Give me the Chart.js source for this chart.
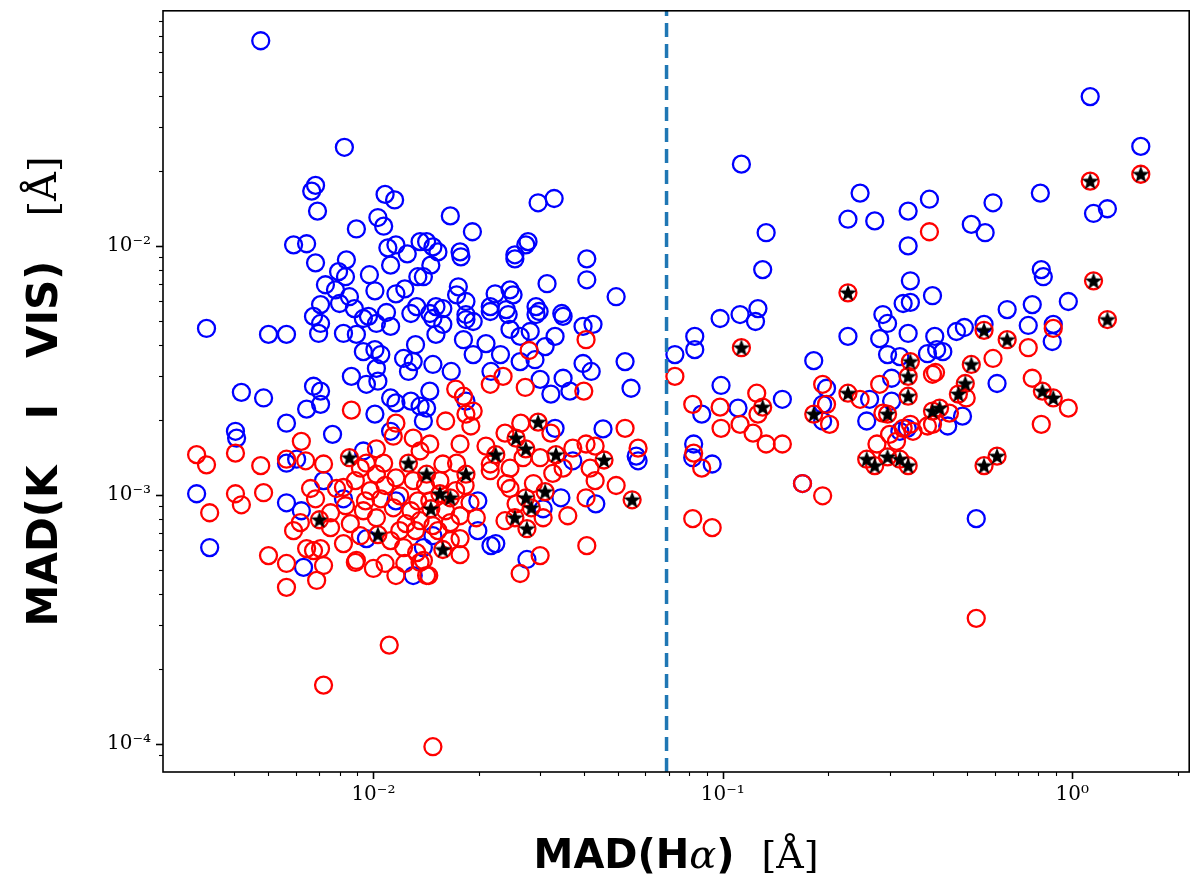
<!DOCTYPE html>
<html>
<head>
<meta charset="utf-8">
<title>MAD scatter</title>
<script src="https://cdn.jsdelivr.net/npm/chart.js@4.4.1/dist/chart.umd.min.js"></script>
<style>
  html, body { margin: 0; padding: 0; background: #fff; }
  #wrap { width: 1200px; height: 890px; }
</style>
</head>
<body>
<div id="wrap"><canvas id="chart" width="1200" height="890"></canvas></div>
<script>
// Blue circles
const blueX = [
  0.00476, 0.00826, 0.00683, 0.00666, 0.00692, 0.0108, 0.0115, 0.00894, 0.0103, 0.0107,
  0.00591, 0.00644, 0.00683, 0.00837, 0.00795, 0.00832, 0.00729, 0.00779, 0.00974, 0.0101,
  0.0110, 0.0116, 0.0125, 0.0112, 0.0136, 0.0134, 0.0116, 0.0123, 0.00854, 0.00800,
  0.00706, 0.00882, 0.0109, 0.0133, 0.0128, 0.00674, 0.00968,
  0.0166, 0.0192, 0.0296, 0.0329, 0.0142, 0.0148, 0.0153, 0.0146, 0.0139, 0.0177,
  0.0178, 0.0254, 0.0254, 0.0277, 0.0273, 0.0408, 0.0408, 0.0314, 0.0495, 0.0175,
  0.0173, 0.0184, 0.0223, 0.0246, 0.0251, 0.0216, 0.0240, 0.0292, 0.0298, 0.0346,
  0.0151, 0.0145, 0.0158, 0.0184,
  0.00333, 0.00501, 0.00564, 0.00706, 0.00697, 0.00821, 0.00894, 0.00936, 0.0102, 0.0112,
  0.00936, 0.0101, 0.0105, 0.0122, 0.0130, 0.0132, 0.0102, 0.0126, 0.00865, 0.00955,
  0.0103, 0.00674, 0.00706, 0.00419, 0.00485, 0.00706, 0.00644, 0.0112, 0.0116, 0.0128,
  0.0136, 0.0101, 0.00564, 0.00403, 0.00406, 0.00764, 0.00936, 0.00603, 0.00564, 0.0112,
  0.0148, 0.0158, 0.0184, 0.0193, 0.0216, 0.0243, 0.0292, 0.0349, 0.0398, 0.0425,
  0.0151, 0.0181, 0.0210, 0.0246, 0.0263, 0.0281, 0.0331, 0.0310, 0.0231, 0.0193,
  0.0263, 0.0290, 0.0398, 0.0420, 0.0525, 0.0148, 0.0167, 0.0217, 0.0300, 0.0349,
  0.0322, 0.0365, 0.0546, 0.0145, 0.0142, 0.0184, 0.0454, 0.0331, 0.0565, 0.0139,
  0.00312, 0.00340, 0.00564, 0.00622, 0.00720, 0.00821, 0.00631, 0.00955, 0.0116, 0.0130,
  0.0433, 0.0344, 0.0306, 0.0224, 0.0275, 0.0199, 0.0199, 0.0148, 0.0139, 0.0572,
  0.0372, 0.0217,
  0.113, 0.247, 0.390, 0.228, 0.272, 0.339, 0.133, 0.339, 0.130, 0.344,
  0.398, 0.328, 0.344, 0.287, 0.296, 0.126, 0.124, 0.112, 0.0982, 0.0831,
  0.228, 0.281, 0.339, 0.404, 1.125, 1.57, 0.810, 0.593, 0.514, 0.563,
  1.15, 1.26, 0.815, 0.826, 0.974, 0.768, 0.651, 0.748, 0.491, 0.466,
  0.882, 0.559, 0.0831, 0.0729, 0.296, 0.321, 0.385, 0.409, 0.182, 0.0988,
  0.148, 0.1105, 0.0870, 0.198, 0.193, 0.193, 0.263, 0.258, 0.304, 0.304,
  0.321, 0.337, 0.0825, 0.0820, 0.0932, 0.169, 0.876, 0.426, 0.609, 0.485,
  0.440, 0.531
];
const blueY = [
  0.0667, 0.0249, 0.0175, 0.0166, 0.0138, 0.0161, 0.0153, 0.0117, 0.0130, 0.0120,
  0.0101, 0.0102, 0.00855, 0.00879, 0.00788, 0.00752, 0.00698, 0.00666, 0.00766, 0.00660,
  0.00982, 0.0101, 0.00929, 0.00837, 0.0104, 0.00752, 0.00642, 0.00672, 0.00625, 0.00587,
  0.00581, 0.00560, 0.00540, 0.00570, 0.00535, 0.00521, 0.00521,
  0.0132, 0.0114, 0.0149, 0.0155, 0.0104, 0.00991, 0.00946, 0.00837, 0.00752, 0.00946,
  0.00904, 0.00921, 0.00887, 0.0104, 0.0101, 0.00887, 0.00731, 0.00705, 0.00625, 0.00685,
  0.00636, 0.00598, 0.00642, 0.00666, 0.00636, 0.00570, 0.00555, 0.00570, 0.00545, 0.00535,
  0.00570, 0.00535, 0.00560, 0.00530,
  0.00466, 0.00441, 0.00441, 0.00488, 0.00445, 0.00445, 0.00441, 0.00511, 0.00488, 0.00475,
  0.00376, 0.00383, 0.00366, 0.00353, 0.00343, 0.00401, 0.00322, 0.00313, 0.00299, 0.00278,
  0.00286, 0.00273, 0.00261, 0.00258, 0.00245, 0.00231, 0.00221, 0.00245, 0.00234, 0.00238,
  0.00227, 0.00211, 0.00194, 0.00180, 0.00169, 0.00175, 0.00150, 0.00139, 0.00134, 0.00180,
  0.00511, 0.00484, 0.00506, 0.00497, 0.00545, 0.00530, 0.00530, 0.00521, 0.00475, 0.00484,
  0.00441, 0.00420, 0.00405, 0.00462, 0.00433, 0.00453, 0.00433, 0.00394, 0.00366, 0.00366,
  0.00343, 0.00349, 0.00337, 0.00313, 0.00343, 0.00334, 0.00313, 0.00313, 0.00291, 0.00294,
  0.00254, 0.00261, 0.00268, 0.00261, 0.00223, 0.00238, 0.00184, 0.00185, 0.00143, 0.00198,
  0.00101, 0.000614, 0.000929, 0.000863, 0.00114, 0.000964, 0.000511, 0.000667, 0.000946, 0.000474,
  0.000920, 0.000973, 0.000879, 0.000637, 0.000550, 0.000718, 0.000946, 0.000685, 0.000614, 0.00137,
  0.00137, 0.000625,
  0.0213, 0.0163, 0.0154, 0.0128, 0.0126, 0.0138, 0.0113, 0.0100, 0.00803, 0.00724,
  0.00631, 0.00587, 0.00593, 0.00530, 0.00488, 0.00560, 0.00497, 0.00530, 0.00511, 0.00433,
  0.00433, 0.00424, 0.00445, 0.00433, 0.0398, 0.0251, 0.0163, 0.0149, 0.0122, 0.0113,
  0.0135, 0.0141, 0.00803, 0.00752, 0.00598, 0.00581, 0.00555, 0.00479, 0.00470, 0.00453,
  0.00484, 0.00484, 0.00383, 0.00366, 0.00366, 0.00359, 0.00369, 0.00383, 0.00346, 0.00275,
  0.00242, 0.00223, 0.00211, 0.00268, 0.00231, 0.00198, 0.00242, 0.00198, 0.00294, 0.00238,
  0.00180, 0.00185, 0.00160, 0.00141, 0.00133, 0.00111, 0.00413, 0.00376, 0.00280, 0.00207,
  0.00189, 0.000802
];

// Red circles
const redX = [
  0.00865, 0.0116, 0.0114, 0.0130, 0.00622, 0.00403, 0.00312, 0.00333, 0.00476, 0.00564,
  0.00640, 0.00720, 0.0102, 0.00955, 0.0107, 0.0136,
  0.0406, 0.0279, 0.0235, 0.0216, 0.0272, 0.0400, 0.0172, 0.0181, 0.0193, 0.0184,
  0.0161, 0.0190, 0.0238, 0.0264, 0.0322, 0.0525, 0.0572, 0.0145, 0.0177, 0.0210,
  0.0372, 0.0406, 0.0431, 0.0268, 0.0300, 0.0158, 0.0173, 0.0216, 0.0246,
  0.00403, 0.00419, 0.00485, 0.00340, 0.00501, 0.00564, 0.00564, 0.00688, 0.00720, 0.00591,
  0.00618, 0.00644, 0.00674, 0.00706, 0.00661, 0.00683, 0.00784, 0.00821, 0.00754, 0.00821,
  0.00894, 0.0100, 0.0108, 0.0116, 0.00936, 0.0102, 0.0114, 0.0105, 0.0124, 0.0122,
  0.0133, 0.00918, 0.0102, 0.0116, 0.0130, 0.00859, 0.00918, 0.00754,
  0.0495, 0.0431, 0.0406, 0.0360, 0.0306, 0.0238, 0.0256, 0.0408, 0.0300, 0.0263,
  0.0177, 0.0177, 0.0197, 0.0189, 0.0166, 0.0148, 0.0144, 0.0139, 0.0240, 0.0246,
  0.0287, 0.0326, 0.0349, 0.0417, 0.0216,
  0.0111, 0.00720, 0.0148, 0.00888, 0.0136, 0.0123, 0.0142,
  0.0098, 0.0108, 0.0119, 0.0128, 0.0134, 0.00949, 0.00888, 0.0119, 0.0112, 0.0132, 0.0136, 0.00832,
  0.0141, 0.0155, 0.0172, 0.0183, 0.0145, 0.0161, 0.0177, 0.0153, 0.0166,
  0.390, 0.882, 0.0729, 0.0820, 0.0982, 0.0988, 0.112, 0.122, 0.125, 0.126,
  0.133, 0.148, 0.0825, 0.0870, 0.0820, 0.0932, 0.193, 0.169, 0.193, 0.198,
  0.202, 0.247, 0.281, 0.287, 0.276, 0.300, 0.328, 0.344, 0.350, 0.314,
  0.385, 0.398, 0.748, 0.593, 0.768, 0.974, 0.815, 0.406, 0.497, 0.445,
  0.398, 0.531
];
const redY = [
  0.00219, 0.00194, 0.00172, 0.00169, 0.00164, 0.00147, 0.00145, 0.00132, 0.00131, 0.00139,
  0.00137, 0.00133, 0.00153, 0.00134, 0.00134, 0.00150,
  0.00420, 0.00380, 0.00299, 0.00278, 0.00270, 0.00261, 0.00266, 0.00249, 0.00217, 0.00211,
  0.00198, 0.00189, 0.00177, 0.00194, 0.00177, 0.00185, 0.00154, 0.00160, 0.00160, 0.00157,
  0.00154, 0.00160, 0.00157, 0.00141, 0.00141, 0.00133, 0.00134, 0.00133, 0.00128,
  0.00101, 0.000912, 0.00102, 0.000847, 0.000570, 0.000530, 0.000425, 0.000453, 0.000520, 0.000718,
  0.000773, 0.000608, 0.000597, 0.000608, 0.00106, 0.000964, 0.00106, 0.00107, 0.000738, 0.000637,
  0.000545, 0.000506, 0.000530, 0.000474, 0.000863, 0.000809, 0.000887, 0.000964, 0.000766, 0.000614,
  0.000586, 0.00128, 0.00121, 0.00117, 0.00114, 0.000766, 0.000685, 0.000847,
  0.00109, 0.00114, 0.000973, 0.000824, 0.000809, 0.000787, 0.000920, 0.000625, 0.000570, 0.000483,
  0.000575, 0.000667, 0.000809, 0.000929, 0.000773, 0.000752, 0.000474, 0.000545, 0.00111, 0.00106,
  0.00111, 0.00122, 0.00128, 0.00128, 0.00125,
  0.000249, 0.000172, 0.0000973, 0.000535, 0.000535, 0.000530, 0.000474,
  0.00104, 0.00109, 0.000991, 0.000863, 0.000946, 0.000946, 0.00114, 0.000718, 0.000655, 0.000718, 0.000787, 0.000904,
  0.00109, 0.00114, 0.00104, 0.00109, 0.000946, 0.000863, 0.000824, 0.000718, 0.000655,
  0.0114, 0.00466, 0.00299, 0.00231, 0.00225, 0.00185, 0.00192, 0.00177, 0.00256, 0.00211,
  0.00160, 0.00160, 0.00147, 0.00128, 0.000802, 0.000738, 0.000991, 0.00111, 0.00278, 0.00231,
  0.00192, 0.00242, 0.00278, 0.00213, 0.00160, 0.00175, 0.00185, 0.00192, 0.00180, 0.00164,
  0.00189, 0.00305, 0.00390, 0.00353, 0.00294, 0.00223, 0.00192, 0.00310, 0.00245, 0.00213,
  0.00192, 0.000319
];

// Red circles that also carry a black star
const starX = [
  0.00854, 0.0126, 0.0296, 0.0256, 0.0273, 0.0224, 0.0333, 0.0457, 0.00701, 0.0103,
  0.0142, 0.0184, 0.0155, 0.0166, 0.0146, 0.0158, 0.0273, 0.0283, 0.0310, 0.0254,
  0.0275, 0.0550,
  0.228, 0.113, 1.125, 1.57, 1.15, 1.26, 0.559, 0.651,
  0.130, 0.182, 0.228, 0.296, 0.344, 0.339, 0.339,
  0.258, 0.272, 0.296, 0.321, 0.339,
  0.514, 0.494, 0.472, 0.417, 0.398,
  0.821, 0.882, 0.609, 0.559
];
const starY = [
  0.00141, 0.00134, 0.00196, 0.00169, 0.00153, 0.00145, 0.00145, 0.00138, 0.000794, 0.000692,
  0.00121, 0.00121, 0.00101, 0.000973, 0.000879, 0.000603, 0.000973, 0.000887, 0.00103, 0.000809,
  0.000731, 0.000955,
  0.00648, 0.00390, 0.0182, 0.0194, 0.00724, 0.00506, 0.00458, 0.00420,
  0.00225, 0.00211, 0.00256, 0.00211, 0.00343, 0.00299, 0.00249,
  0.00139, 0.00131, 0.00142, 0.00139, 0.00131,
  0.00334, 0.00280, 0.00254, 0.00223, 0.00217,
  0.00261, 0.00245, 0.00143, 0.00131
];

// Dashed threshold and axis ranges
const dashX = 0.069;
const xRange = [0.0025, 2.16];
const yRange = [7.7e-5, 0.088];

// Tick labels
const xTickValues = [0.01, 0.1, 1];
const xTickLabels = ['10\u207B\u00B2', '10\u207B\u00B9', '10\u2070'];
const yTickValues = [1e-4, 1e-3, 1e-2];
const yTickLabels = ['10\u207B\u2074', '10\u207B\u00B3', '10\u207B\u00B2'];

// Axis titles, split into font runs
const xTitleParts = [
  ['MAD(H', 'bold 40px "DejaVu Sans"'],
  ['\u03B1', 'italic 40px "DejaVu Serif"'],
  [')', 'bold 40px "DejaVu Sans"'],
  [' [\u00C5]', '38px "DejaVu Serif"']
];
const yTitleParts = [
  ['MAD(K I VIS)', 'bold 42px "DejaVu Sans"'],
  [' [\u00C5]', '40px "DejaVu Serif"']
];

function toPoints(xs, ys) {
  const n = Math.min(xs.length, ys.length);
  const out = [];
  for (let i = 0; i < n; i++) out.push({x: xs[i], y: ys[i]});
  return out;
}

function labelFor(values, labels) {
  return function (v) {
    const i = values.findIndex(t => Math.abs(v / t - 1) < 1e-6);
    return i >= 0 ? labels[i] : '';
  };
}

// filled black star used as point image
function starImage(size) {
  const c = document.createElement('canvas');
  c.width = c.height = size;
  const g = c.getContext('2d');
  const R = size / 2, r = R * 0.42;
  g.beginPath();
  for (let i = 0; i < 10; i++) {
    const a = -Math.PI / 2 + i * Math.PI / 5;
    const rad = i % 2 ? r : R;
    g.lineTo(R + rad * Math.cos(a), R + 0.6 + rad * Math.sin(a));
  }
  g.closePath();
  g.fillStyle = '#000';
  g.fill();
  return c;
}

// text runs drawn char by char; extra room to reach `span` goes into the word spaces
function drawRuns(ctx, parts, span) {
  let w = 0, spaces = 0;
  parts.forEach(([txt, font]) => {
    ctx.font = font;
    for (const ch of txt) { w += ctx.measureText(ch).width; if (ch === ' ') spaces++; }
  });
  const extra = spaces ? Math.max(0, (span - w) / spaces) : 0;
  let x = -(w + extra * spaces) / 2;
  parts.forEach(([txt, font]) => {
    ctx.font = font;
    for (const ch of txt) {
      ctx.fillText(ch, x, 0);
      x += ctx.measureText(ch).width + (ch === ' ' ? extra : 0);
    }
  });
}

const axisTitles = {
  id: 'axisTitles',
  afterDraw(chart) {
    const {ctx, chartArea: a} = chart;
    ctx.save();
    ctx.fillStyle = '#000';
    ctx.textAlign = 'left';
    ctx.textBaseline = 'middle';
    ctx.translate((a.left + a.right) / 2, 858);
    drawRuns(ctx, xTitleParts, 285);
    ctx.restore();
    ctx.save();
    ctx.fillStyle = '#000';
    ctx.textAlign = 'left';
    ctx.textBaseline = 'middle';
    ctx.translate(46, (a.top + a.bottom) / 2);
    ctx.rotate(-Math.PI / 2);
    drawRuns(ctx, yTitleParts, 470);
    ctx.restore();
  }
};

// outward tick marks (major and minor) plus the frame
const frameTicks = {
  id: 'frameTicks',
  afterDraw(chart) {
    const {ctx, chartArea: a} = chart;
    ctx.save();
    ctx.strokeStyle = '#000';
    [chart.scales.x, chart.scales.y].forEach(s => {
      s.ticks.forEach(t => {
        const e = Math.floor(Math.log10(t.value) + 1e-9);
        const m = t.value / Math.pow(10, e);
        if (Math.abs(m - Math.round(m)) > 1e-6) return;
        const major = Math.round(m) === 1 || Math.round(m) === 10;
        const len = major ? 7 : 4;
        ctx.lineWidth = major ? 1.6 : 1.1;
        const p = Math.round(s.getPixelForValue(t.value)) + 0.5;
        ctx.beginPath();
        if (s.axis === 'x') { ctx.moveTo(p, a.bottom); ctx.lineTo(p, a.bottom + len); }
        else { ctx.moveTo(a.left, p); ctx.lineTo(a.left - len, p); }
        ctx.stroke();
      });
    });
    ctx.lineWidth = 1.6;
    ctx.strokeRect(a.left, a.top, a.right - a.left, a.bottom - a.top);
    ctx.restore();
  }
};

const tickFont = {family: 'DejaVu Serif', size: 20};

new Chart(document.getElementById('chart'), {
  type: 'scatter',
  data: {
    datasets: [
      {
        label: 'star',
        data: toPoints(starX, starY),
        pointStyle: starImage(18),
        pointRadius: 9,
        order: 0
      },
      {
        label: 'threshold',
        type: 'line',
        data: [{x: dashX, y: yRange[0]}, {x: dashX, y: yRange[1]}],
        borderColor: '#1f77b4',
        borderWidth: 3.5,
        borderDash: [14, 7],
        pointRadius: 0,
        showLine: true,
        order: 1
      },
      {
        label: 'red',
        data: toPoints(redX.concat(starX), redY.concat(starY)),
        pointStyle: 'circle',
        pointRadius: 8.5,
        borderWidth: 2.3,
        borderColor: '#ff0000',
        backgroundColor: 'rgba(0,0,0,0)',
        order: 2
      },
      {
        label: 'blue',
        data: toPoints(blueX, blueY),
        pointStyle: 'circle',
        pointRadius: 8.5,
        borderWidth: 2.3,
        borderColor: '#0000ff',
        backgroundColor: 'rgba(0,0,0,0)',
        order: 3
      }
    ]
  },
  options: {
    responsive: false,
    animation: false,
    devicePixelRatio: 1,
    layout: {padding: {top: 7, right: 9, left: 0, bottom: 0}},
    plugins: {legend: {display: false}, tooltip: {enabled: false}},
    scales: {
      x: {
        type: 'logarithmic',
        min: xRange[0],
        max: xRange[1],
        grid: {display: false, drawTicks: true, tickLength: 8},
        border: {display: false},
        ticks: {autoSkip: false, maxRotation: 0, color: '#000', font: tickFont, padding: 3,
                callback: labelFor(xTickValues, xTickLabels)},
        afterFit(s) { s.height = 118; s.paddingLeft = 0; s.paddingRight = 0; }
      },
      y: {
        type: 'logarithmic',
        min: yRange[0],
        max: yRange[1],
        grid: {display: false, drawTicks: true, tickLength: 8},
        border: {display: false},
        ticks: {autoSkip: false, color: '#000', font: tickFont, padding: 4,
                callback: labelFor(yTickValues, yTickLabels)},
        afterFit(s) { s.width = 163; s.paddingTop = 0; s.paddingBottom = 0; }
      }
    }
  },
  plugins: [frameTicks, axisTitles]
});
</script>
</body>
</html>
